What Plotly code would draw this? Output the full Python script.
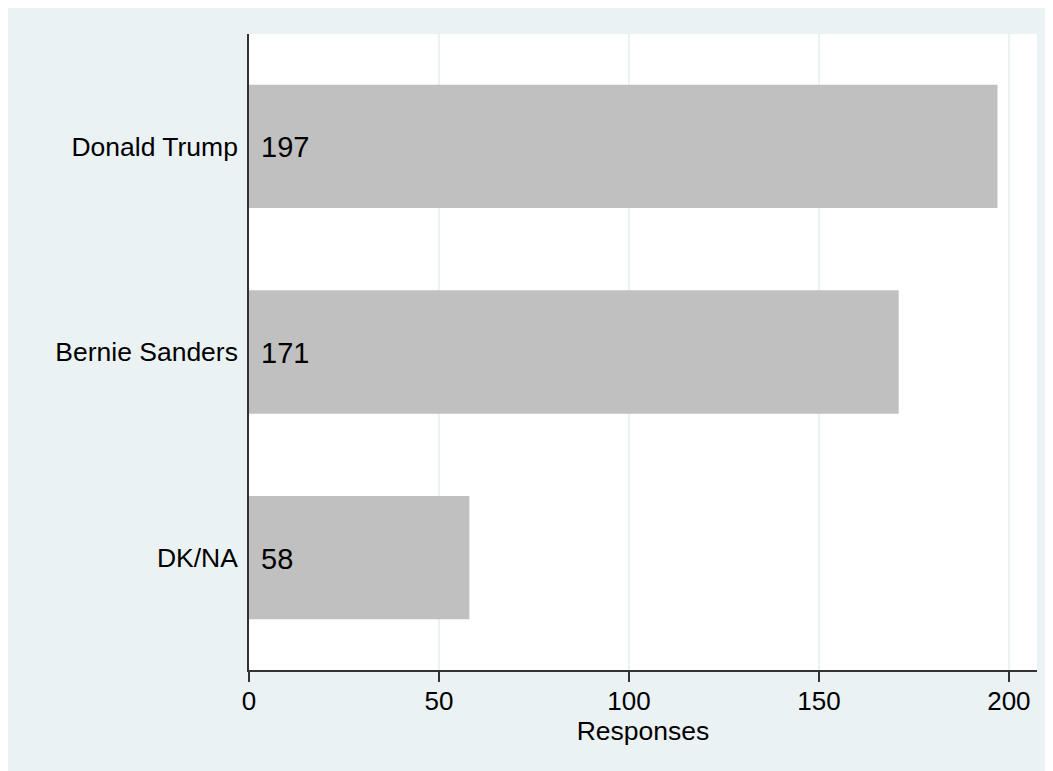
import plotly.graph_objects as go

categories = ["Donald Trump", "Bernie Sanders", "DK/NA"]
responses = [197, 171, 58]
x_ticks = [0, 50, 100, 150, 200]

BG = "#EAF2F3"
BAR = "#C0C0C0"
AXIS = "#333333"
FONT = "Liberation Sans, Arial, sans-serif"

# the page adds an 8px body margin around the figure
W, H = 1053, 771
L, R, T, B = 241, 24, 26, 109

fig = go.Figure()
fig.add_trace(go.Bar(
    y=categories, x=responses, orientation="h",
    marker=dict(color=BAR, line=dict(width=0)),
    width=0.6, hoverinfo="skip",
))

for c, v in zip(categories, responses):
    fig.add_annotation(
        x=0, y=c, text=str(v), showarrow=False,
        xanchor="left", yanchor="middle", xshift=10, yshift=-1,
        font=dict(family=FONT, size=29, color="black"),
    )

fig.update_layout(
    width=W, height=H,
    margin=dict(l=L, r=R, t=T, b=B, pad=0),
    paper_bgcolor=BG,
    plot_bgcolor="white",
    font=dict(family=FONT, size=26, color="black"),
    showlegend=False,
    xaxis=dict(
        range=[0, 207.4], tickvals=x_ticks, ticktext=[str(t) for t in x_ticks],
        showgrid=True, gridcolor=BG, gridwidth=2,
        zeroline=False, showline=True, linecolor=AXIS, linewidth=1.5,
        ticks="outside", ticklen=10, tickwidth=1.5, tickcolor=AXIS,
        ticklabelstandoff=-3,
        tickfont=dict(family=FONT, size=26, color="black"),
        title=dict(text="Responses", standoff=0,
                   font=dict(family=FONT, size=26.5, color="black")),
    ),
    yaxis=dict(
        categoryorder="array", categoryarray=categories[::-1],
        range=[-0.547, 2.547],
        showgrid=False, zeroline=False, showline=True, linecolor=AXIS, linewidth=1.5,
        ticks="", ticklabelstandoff=4,
        tickfont=dict(family=FONT, size=26.5, color="black"),
    ),
)

fig.write_html(
    "out.html",
    config={"displayModeBar": False},
    post_script="document.body.style.overflow='hidden';",
)
